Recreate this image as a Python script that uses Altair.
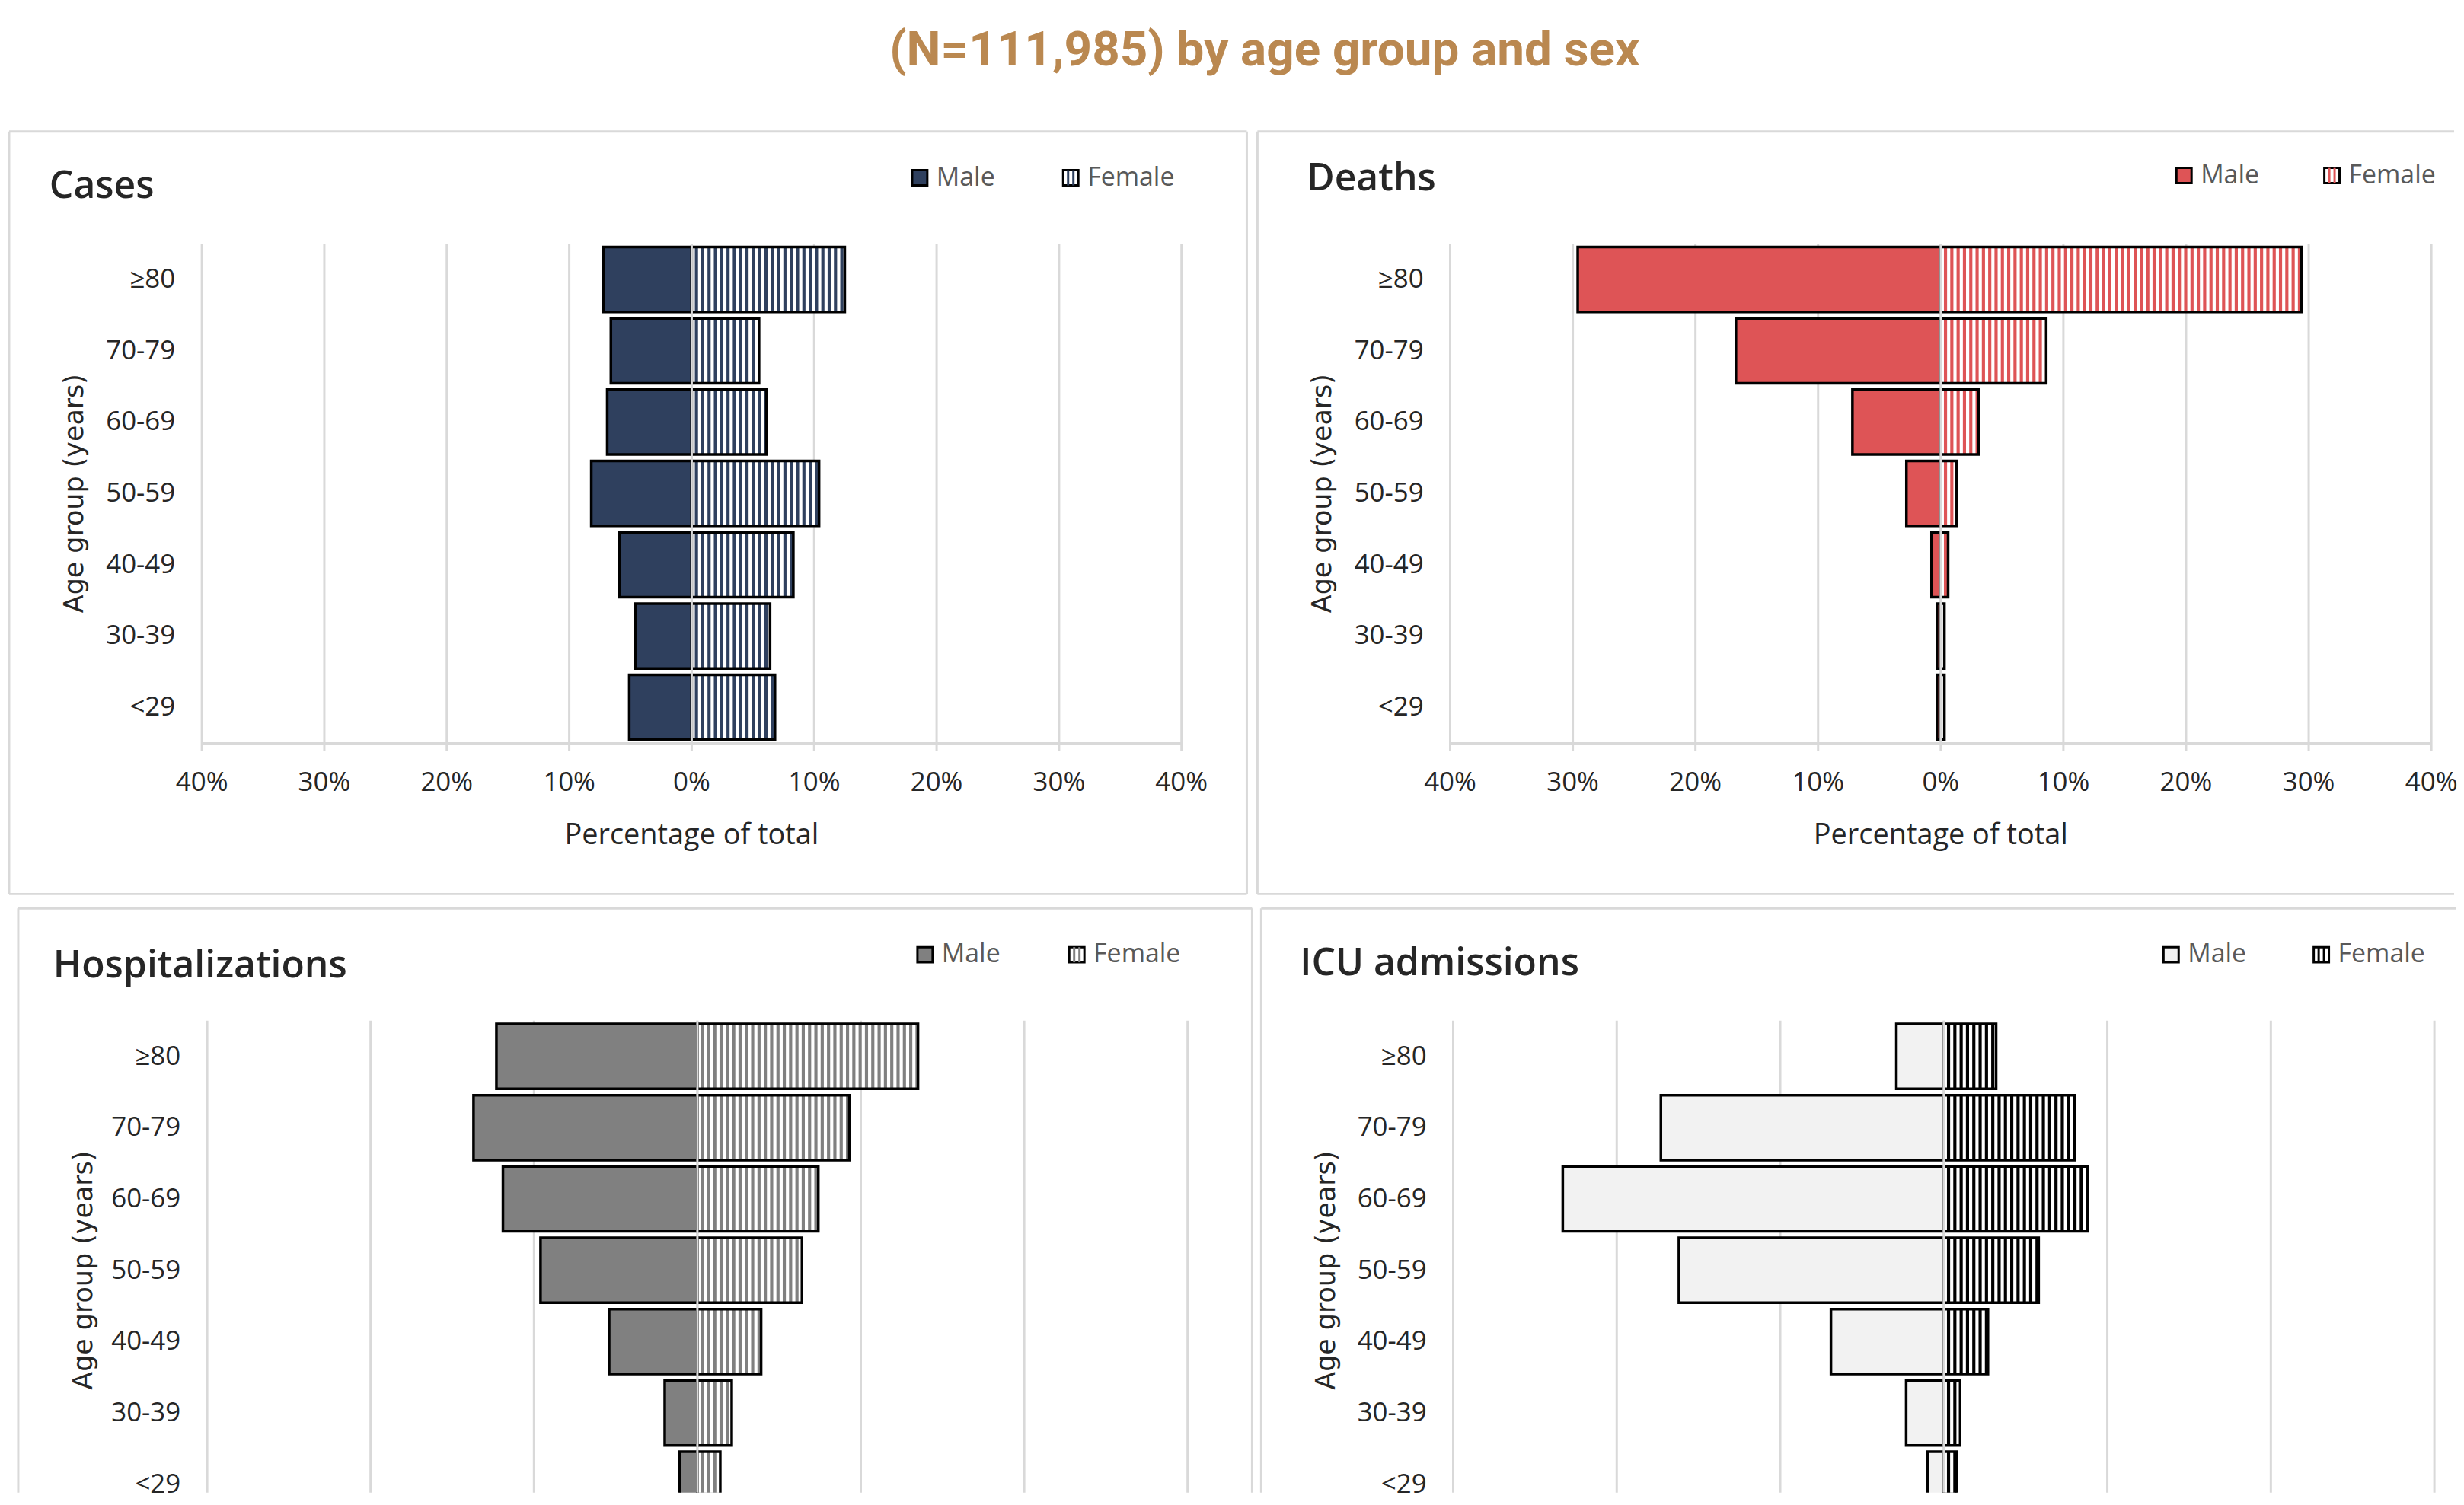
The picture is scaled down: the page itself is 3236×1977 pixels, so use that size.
import altair as alt
import pandas as pd

# ---------------- data (percent of total) ----------------
ages = ["≥80", "70-79", "60-69", "50-59", "40-49", "30-39", "<29"]

cases_male = [7.2, 6.6, 6.9, 8.2, 5.9, 4.6, 5.1]
cases_female = [12.5, 5.5, 6.1, 10.4, 8.3, 6.4, 6.8]

deaths_male = [29.6, 16.7, 7.2, 2.8, 0.75, 0.3, 0.3]
deaths_female = [29.4, 8.6, 3.1, 1.3, 0.6, 0.3, 0.3]

hosp_male = [12.3, 13.7, 11.9, 9.6, 5.4, 2.0, 1.1]
hosp_female = [13.5, 9.3, 7.4, 6.4, 3.9, 2.1, 1.4]

icu_male = [2.9, 17.3, 23.3, 16.2, 6.9, 2.3, 1.0]
icu_female = [3.2, 8.0, 8.8, 5.8, 2.7, 1.0, 0.8]

ticks_40 = [-40, -30, -20, -10, 0, 10, 20, 30, 40]
tick_labels_40 = ["40%", "30%", "20%", "10%", "0%", "10%", "20%", "30%", "40%"]
ticks_30 = [-30, -20, -10, 0, 10, 20, 30]
tick_labels_30 = ["30%", "20%", "10%", "0%", "10%", "20%", "30%"]

title_text = "(N=111,985) by age group and sex"
x_title = "Percentage of total"
y_title = "Age group (years)"

# ---------------- style ----------------
FONT = "Open Sans"
GRID = "#d9d9d9"
TXT = "#262626"
LEG = "#595959"
TOP_H = 1005
BOT_H = 770
Y0, Y1 = 148, 806
AXIS_Y = 807
STRIPE_PX = 8.33

one = pd.DataFrame({"k": [0]})


def vrule(x, y0, y1):
    return alt.Chart(one).mark_rule(color=GRID, strokeWidth=3).encode(
        x=alt.value(x), y=alt.value(y0), y2=alt.value(y1))


def hrule(y, x0, x1):
    return alt.Chart(one).mark_rule(color=GRID, strokeWidth=3).encode(
        y=alt.value(y), x=alt.value(x0), x2=alt.value(x1))


def panel(name, male, female, male_fill, female_col, ticks, tick_labels, xr,
          width, height, leg, ttl, sides, show_xaxis):
    lim = ticks[-1]
    clip = not show_xaxis
    xscale = alt.Scale(domain=[-lim, lim], range=xr, nice=False, zero=False)
    yscale = alt.Scale(type="band", domain=ages, range=[Y0, Y1],
                       paddingInner=0.09, paddingOuter=0.045)
    df = pd.DataFrame({"age": ages, "male_neg": [-m for m in male],
                       "female": female, "zero": [0] * len(ages)})
    grid_df = pd.DataFrame({"v": ticks, "lab": tick_labels})

    # white gaps of the vertical hatch on the female bars
    period = STRIPE_PX * 2 * lim / (xr[1] - xr[0])
    rows = []
    for a, f in zip(ages, female):
        k = 0
        while k * period < f:
            rows.append({"age": a, "s0": k * period,
                         "s1": min(k * period + period / 2, f)})
            k += 1
    stripes = pd.DataFrame(rows)

    X = lambda f: alt.X(f, scale=xscale, axis=None)
    Y = alt.Y("age:N", scale=yscale, axis=None)

    layers = []
    layers.append(alt.Chart(grid_df).mark_rule(color=GRID, strokeWidth=3, clip=clip).encode(
        x=X("v:Q"), y=alt.value(Y0), y2=alt.value(AXIS_Y + 10)))
    layers.append(alt.Chart(df).mark_bar(fill=male_fill, stroke="black", strokeWidth=3.5,
                                         clip=clip).encode(
        x=X("male_neg:Q"), x2="zero:Q", y=Y))
    layers.append(alt.Chart(df).mark_bar(fill=female_col, strokeWidth=0, clip=clip).encode(
        x=X("zero:Q"), x2="female:Q", y=Y))
    layers.append(alt.Chart(stripes).mark_bar(fill="white", strokeWidth=0, clip=clip).encode(
        x=X("s0:Q"), x2="s1:Q", y=Y))
    layers.append(alt.Chart(df).mark_bar(fill="transparent", stroke="black", strokeWidth=3.5,
                                         clip=clip).encode(
        x=X("zero:Q"), x2="female:Q", y=Y))
    layers.append(alt.Chart(pd.DataFrame({"z": [0]})).mark_rule(
        color=GRID, strokeWidth=3, clip=clip).encode(
        x=X("z:Q"), y=alt.value(Y0), y2=alt.value(AXIS_Y)))

    # y tick labels
    layers.append(alt.Chart(df).mark_text(align="right", baseline="middle", font=FONT,
                                          fontSize=35, color=TXT).encode(
        y=Y, x=alt.value(xr[0] - 35), text="age:N"))
    # y title
    layers.append(alt.Chart(one).mark_text(text=y_title, angle=270, align="center",
                                           baseline="middle", font="DejaVu Sans",
                                           fontSize=35, color=TXT).encode(
        x=alt.value(86), y=alt.value((Y0 + Y1) / 2)))

    if show_xaxis:
        ax_df = pd.DataFrame({"a": [-lim], "b": [lim]})
        layers.append(alt.Chart(ax_df).mark_rule(color=GRID, strokeWidth=4).encode(
            x=X("a:Q"), x2="b:Q", y=alt.value(AXIS_Y)))
        layers.append(alt.Chart(grid_df).mark_text(align="center", baseline="top",
                                                   font=FONT, fontSize=35,
                                                   color=TXT).encode(
            x=X("v:Q"), y=alt.value(AXIS_Y + 34), text="lab:N"))
        layers.append(alt.Chart(one).mark_text(text=x_title, align="center",
                                               baseline="alphabetic", font=FONT,
                                               fontSize=38, color=TXT).encode(
            x=alt.value((xr[0] + xr[1]) / 2), y=alt.value(AXIS_Y + 132)))

    # panel title
    layers.append(alt.Chart(one).mark_text(text=name, align="left", baseline="alphabetic",
                                           font=FONT, fontSize=50, fontWeight=600,
                                           color=TXT).encode(
        x=alt.value(ttl[0]), y=alt.value(ttl[1])))

    # legend
    mx, fx, ly = leg
    half = 10
    layers.append(alt.Chart(one).mark_rect(fill=male_fill, stroke="black", strokeWidth=3).encode(
        x=alt.value(mx - half), x2=alt.value(mx + half),
        y=alt.value(ly - half), y2=alt.value(ly + half)))
    layers.append(alt.Chart(one).mark_rect(fill="white", stroke="black", strokeWidth=3).encode(
        x=alt.value(fx - half), x2=alt.value(fx + half),
        y=alt.value(ly - half), y2=alt.value(ly + half)))
    for s in (-5, 2):
        layers.append(alt.Chart(one).mark_rect(fill=female_col).encode(
            x=alt.value(fx + s), x2=alt.value(fx + s + 3),
            y=alt.value(ly - half), y2=alt.value(ly + half)))
    layers.append(alt.Chart(one).mark_text(text="Male", align="left", baseline="middle",
                                           font=FONT, fontSize=34, color=LEG).encode(
        x=alt.value(mx + 22), y=alt.value(ly)))
    layers.append(alt.Chart(one).mark_text(text="Female", align="left", baseline="middle",
                                           font=FONT, fontSize=34, color=LEG).encode(
        x=alt.value(fx + 22), y=alt.value(ly)))

    # panel frame (only the sides that are inside the picture)
    if "t" in sides:
        layers.append(hrule(0, 0, width))
    if "b" in sides:
        layers.append(hrule(height, 0, width))
    if "l" in sides:
        layers.append(vrule(0, 0, height))
    if "r" in sides:
        layers.append(vrule(width, 0, height))

    return alt.layer(*layers).properties(
        width=width, height=height, view=alt.ViewBackground(stroke="transparent"))


TL = panel("Cases", cases_male, cases_female, "#2f405e", "#2f405e",
           ticks_40, tick_labels_40, [254, 1545], 1631, TOP_H,
           (1200, 1399, 61), (53, 88), "tblr", True)
TR = panel("Deaths", deaths_male, deaths_female, "#de5456", "#de5456",
           ticks_40, tick_labels_40, [254, 1547], 1577, TOP_H,
           (1221, 1416, 58), (65, 77), "tbl", True)
BL = panel("Hospitalizations", hosp_male, hosp_female, "#808080", "#808080",
           ticks_30, tick_labels_30, [249, 1541], 1626, BOT_H,
           (1195, 1395, 61), (46, 91), "tlr", False)
BR = panel("ICU admissions", icu_male, icu_female, "#f2f2f2", "#000000",
           ticks_30, tick_labels_30, [253, 1546], 1575, BOT_H,
           (1199, 1397, 61), (51, 88), "tl", False)

spacer = alt.Chart(one).mark_rect(opacity=0).encode(
    x=alt.value(0), x2=alt.value(1), y=alt.value(0), y2=alt.value(1)
).properties(width=1, height=BOT_H, view=alt.ViewBackground(stroke="transparent"))

chart = alt.vconcat(
    alt.hconcat(TL, TR, spacing=10),
    alt.hconcat(spacer, BL, BR, spacing=8),
    spacing=15,
).properties(
    title=alt.TitleParams(text=title_text, font="Roboto", fontSize=64, fontWeight="bold",
                          color="#BA8850", anchor="middle", dx=42, offset=72),
    padding={"left": 2, "top": 24, "right": 0, "bottom": 0},
).configure(background="white")

chart.save("out.html", embed_options={"renderer": "svg", "actions": False})
